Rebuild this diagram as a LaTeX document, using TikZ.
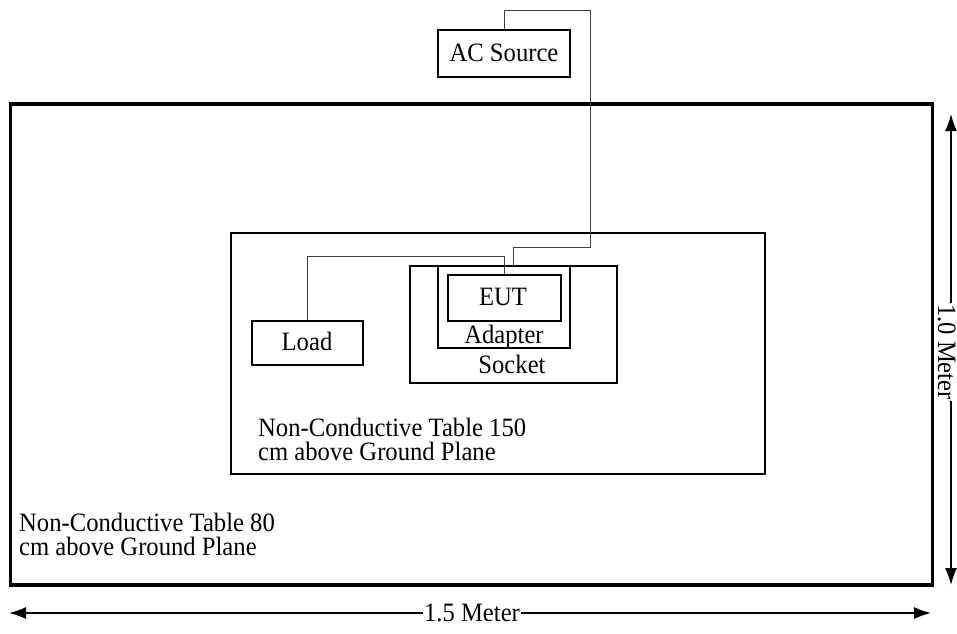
\documentclass[tikz,border=0pt]{standalone}
\usepackage{fontspec}
\setmainfont{Liberation Serif}[FakeStretch=0.93]
\usetikzlibrary{arrows.meta}
\begin{document}
\begin{tikzpicture}[x=1pt,y=-1pt,
  txt/.style={font=\fontsize{26.5}{23.3}\selectfont, inner sep=0pt, anchor=base},
  box/.style={draw=black, line width=1.3pt, minimum width=#1, inner sep=0pt},
  wire/.style={draw=black!75, line width=0.9pt},
  dim/.style={line width=1.5pt, {Latex[length=17pt,width=12pt]}-{Latex[length=17pt,width=12pt]}},
]
\useasboundingbox (0,0) rectangle (957,633);
% tables
\node[draw=black, line width=3.4pt, minimum width=922pt, minimum height=481pt, inner sep=0pt] (outer) at (471.5,344.5) {};
\node[box=534pt, minimum height=241pt] (inner) at (498,353.5) {};
% boxes
\node[box=132pt, minimum height=47pt] (acsrc) at (504,53.5) {};
\node[box=111pt, minimum height=44pt] (load) at (307.5,343) {};
\node[box=207pt, minimum height=117pt] (socket) at (513.5,324.5) {};
\node[box=132pt, minimum height=82pt] (adapter) at (504,307) {};
\node[box=113pt, minimum height=46pt] (eut) at (504.5,298) {};
% labels
\node[txt] (tac) at (504,61) {AC Source};
\node[txt] (tload) at (307,350) {Load};
\node[txt] (teut) at (503,305) {EUT};
\node[txt] (tad) at (504,343) {Adapter};
\node[txt] (tsock) at (512,373) {Socket};
\node[txt, anchor=base west, align=left] (t150) at (258,460) {Non-Conductive Table 150\\cm above Ground Plane};
\node[txt, anchor=base west, align=left] (t80) at (19,555) {Non-Conductive Table 80\\cm above Ground Plane};
% wires
\coordinate (w1) at (590,10);
\coordinate (w2) at (513,247);
\draw[wire] (acsrc.north) |- (w1) |- (w2) -- (w2 |- adapter.north);
\coordinate (lj) at (504.5,256);
\draw[wire] (load.north) |- (lj) -- (eut.north);
% dimensions
\coordinate (v1) at (951,114);
\coordinate (v2) at (951,585);
\draw[dim] (v1) -- (v2);
\node[txt, anchor=center, fill=white, text height=18pt, text depth=0pt, inner xsep=1.5pt, inner ysep=0pt, rotate=-90] (t10) at (947,352) {1.0 Meter};
\coordinate (h1) at (9,613);
\coordinate (h2) at (931,613);
\draw[dim] (h1) -- (h2);
\node[txt, anchor=base, fill=white, inner xsep=1.5pt, inner ysep=1pt] (t15) at (472,621) {1.5 Meter};
\end{tikzpicture}
\end{document}
